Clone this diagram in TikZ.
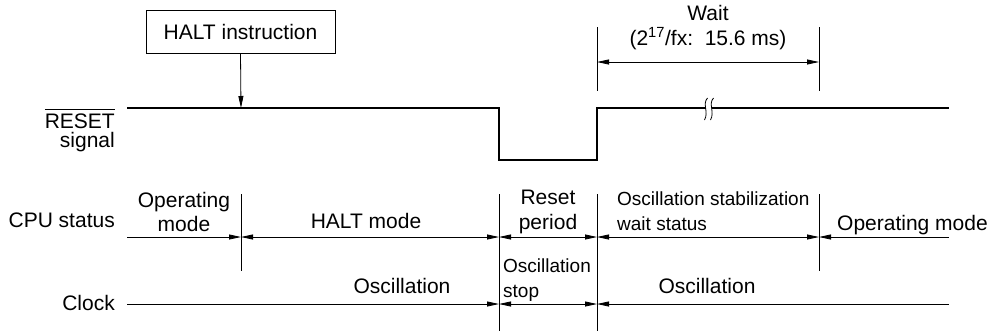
\documentclass[tikz,border=0pt]{standalone}
\usepackage{fontspec}
\setmainfont{Liberation Sans}
\usetikzlibrary{arrows.meta}

\tikzset{
  sigline/.style={line width=2.4pt},
  thinline/.style={line width=0.8pt},
  txt/.style={font=\fontsize{21}{24}\selectfont, inner sep=0pt, anchor=base},
  smalltxt/.style={font=\fontsize{19}{22}\selectfont, inner sep=0pt, anchor=base west},
}

\begin{document}
\begin{tikzpicture}[x=1pt, y=-1pt, >={Triangle[length=12pt,width=5pt]}]
    \useasboundingbox (0,0) rectangle (993,333);

    % Coordinates of the RESET waveform
    \coordinate (r0) at (127,108);
    \coordinate (r1) at (499,108);
    \coordinate (r2) at (499,160);
    \coordinate (r3) at (597,160);
    \coordinate (r4) at (597,108);
    \coordinate (r5) at (706,108);
    \coordinate (r6) at (712,108);
    \coordinate (r7) at (949,108);
    \coordinate (hit) at (241,108);

    % HALT instruction box
    \node[draw, thinline, minimum width=189pt, minimum height=43pt, inner sep=0pt,
          font=\fontsize{21}{24}\selectfont] (halt) at (240.5,31.5) {HALT instruction};
    \draw[thinline, ->] (halt.south) -- (hit);

    % RESET signal
    \draw[sigline] (r0) -- (r1) -- (r2) -- (r3) -- (r4) -- (r5);
    \draw[sigline] (r6) -- (r7);
    \draw[thinline] (707.5,98) .. controls (702,104) and (709,112) .. (704.5,120);
    \draw[thinline] (713.5,98) .. controls (708,104) and (715,112) .. (710.5,120);

    % Wait interval
    \coordinate (wa) at (597,62);
    \coordinate (wb) at (819,62);
    \draw[thinline] (597,27) -- (597,91);
    \draw[thinline] (819,27) -- (819,91);
    \draw[thinline, <->] (wa) -- (wb);
    \node[txt] (wait) at (708,20) {Wait};
    \node[txt] (waittime) at (708,45) {(2\textsuperscript{17}/fx:\ \ 15.6 ms)};

    % Row labels
    \node[txt, anchor=base east] (rst) at (115,128) {$\overline{\mbox{RESET}\rule{0pt}{17.5pt}}$};
    \node[txt, anchor=base east] (sgl) at (115,147) {signal};
    \node[txt, anchor=base east] (cpu) at (115,227) {CPU status};
    \node[txt, anchor=base east] (clk) at (115,310) {Clock};

    % Boundary lines
    \draw[thinline] (241,194) -- (241,271);
    \draw[thinline] (499,194) -- (499,331);
    \draw[thinline] (597,194) -- (597,331);
    \draw[thinline] (819,194) -- (819,271);

    % CPU status intervals
    \coordinate (c0) at (127,237);
    \coordinate (c1) at (241,237);
    \coordinate (c2) at (499,237);
    \coordinate (c3) at (597,237);
    \coordinate (c4) at (819,237);
    \coordinate (c5) at (949,237);
    \draw[thinline, ->] (c0) -- (c1);
    \draw[thinline, <->] (c1) -- (c2);
    \draw[thinline, <->] (c2) -- (c3);
    \draw[thinline, <->] (c3) -- (c4);
    \draw[thinline, <-] (c4) -- (c5);

    \node[txt] (op1) at (184,207) {Operating};
    \node[txt] (op2) at (184,231) {mode};
    \node[txt] (haltmode) at (366,228) {HALT mode};
    \node[txt] (rp1) at (548,204) {Reset};
    \node[txt] (rp2) at (548,229) {period};
    \node[smalltxt] (st1) at (617,205) {Oscillation stabilization};
    \node[smalltxt] (st2) at (617,230) {wait status};
    \node[txt, anchor=base west] (opmode) at (837,230) {Operating mode};

    % Clock intervals
    \coordinate (k0) at (127,304);
    \coordinate (k1) at (499,304);
    \coordinate (k2) at (597,304);
    \coordinate (k3) at (949,304);
    \draw[thinline, ->] (k0) -- (k1);
    \draw[thinline, <->] (k1) -- (k2);
    \draw[thinline, <-] (k2) -- (k3);

    \node[txt] (osc1) at (402,293) {Oscillation};
    \node[smalltxt] (stop1) at (503,272) {Oscillation};
    \node[smalltxt] (stop2) at (503,297) {stop};
    \node[txt] (osc2) at (707,293) {Oscillation};
\end{tikzpicture}
\end{document}
